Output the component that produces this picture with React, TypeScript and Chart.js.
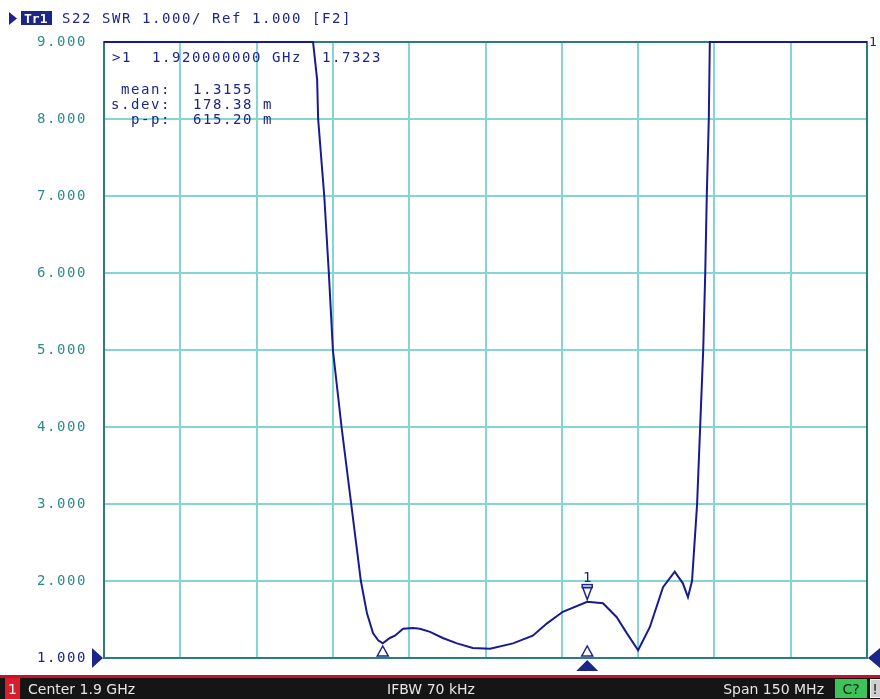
import React, { useEffect, useRef } from "react";
import { Chart, registerables } from "chart.js";
Chart.register(...registerables);

// ---- data ----
const startMHz = 1825;
const stopMHz = 1975;
const freqMHz = [
  1825, 1845, 1866.1, 1866.9, 1867.1, 1868.3, 1869.2, 1870.0, 1871.7, 1873.6,
  1875.5, 1876.7, 1877.9, 1878.9, 1879.8, 1881.2, 1882.2, 1883.8, 1885.7, 1887.1,
  1889.1, 1891.6, 1894.4, 1897.5, 1900.9, 1905.4, 1909.3, 1912.1, 1915.2, 1920.0,
  1923.1, 1925.8, 1927.8, 1930.0, 1932.3, 1934.9, 1937.2, 1938.8, 1939.8, 1940.6,
  1941.6, 1942.2, 1942.8, 1943.2, 1943.5, 1943.9, 1944.1, 1960, 1975,
];
const swr = [
  9, 9, 9, 8.51, 8.0, 7.0, 6.0, 5.0, 4.0, 3.0,
  2.0, 1.58, 1.32, 1.23, 1.19, 1.26, 1.29, 1.38, 1.39, 1.38,
  1.34, 1.26, 1.19, 1.13, 1.12, 1.19, 1.29, 1.45, 1.6, 1.73,
  1.71, 1.53, 1.32, 1.1, 1.4, 1.92, 2.12, 1.97, 1.79, 2.0,
  3.0, 4.0, 5.0, 6.0, 7.0, 8.0, 9.0, 9, 9,
];
const yMin = 1;
const yMax = 9;
const markerFreq = 1920;
const markerValue = 1.7323;
const bottomMarkerFreqs = [1879.8, 1920];
const titleText = "S22 SWR 1.000/ Ref 1.000 [F2]";
const readoutHeader = ">1  1.920000000 GHz  1.7323";
const statLabels = ["mean:", "s.dev:", "p-p:"];
const statValues = ["1.3155", "178.38 m", "615.20 m"];
const statusLeft = "Center 1.9 GHz";
const statusMid = "IFBW 70 kHz";
const statusRight = "Span 150 MHz";

// ---- styles ----
const NAVY = "#1c2688";
const TRACE = "#1a1a90";
const TEAL = "#2e8b8b";
const GRID = "#84d6d6";
const BORDER = "#2b7d7d";
const MONO = '"DejaVu Sans Mono", monospace';
const SPACING = "1.57px";

const overlay = {
  id: "overlay",
  beforeDraw(chart: any) {
    const ctx = chart.ctx;
    ctx.fillStyle = "#ffffff";
    ctx.fillRect(0, 0, chart.width, chart.height);
    (ctx as any).letterSpacing = SPACING;
  },
  beforeDatasetsDraw(chart: any) {
    const ctx = chart.ctx;
    const { left, top, right, bottom } = chart.chartArea;
    ctx.save();
    ctx.strokeStyle = BORDER;
    ctx.lineWidth = 2;
    ctx.strokeRect(left, top, right - left, bottom - top);
    ctx.restore();
  },
  afterDraw(chart: any) {
    const ctx = chart.ctx;
    const xs = chart.scales.x;
    const ys = chart.scales.y;
    const ca = chart.chartArea;
    ctx.save();
    // title
    ctx.fillStyle = NAVY;
    ctx.beginPath();
    ctx.moveTo(9, 12);
    ctx.lineTo(17, 18.5);
    ctx.lineTo(9, 25);
    ctx.closePath();
    ctx.fill();
    ctx.fillRect(21, 11, 31, 14);
    ctx.fillStyle = "#ffffff";
    (ctx as any).letterSpacing = "0px";
    ctx.font = `bold 13px ${MONO}`;
    ctx.textBaseline = "alphabetic";
    ctx.textAlign = "left";
    ctx.fillText("Tr1", 24, 23);
    ctx.fillStyle = NAVY;
    ctx.font = `14px ${MONO}`;
    (ctx as any).letterSpacing = SPACING;
    ctx.fillText(titleText, 62, 23);

    // readout
    ctx.fillText(readoutHeader, 112, 62);
    const baselines = [94, 109, 124];
    statLabels.forEach((l, i) => {
      ctx.fillText(l, 171 - l.length * 10, baselines[i]);
      ctx.fillText(statValues[i], 193, baselines[i]);
    });

    // trace number at top right
    ctx.font = `13px ${MONO}`;
    (ctx as any).letterSpacing = "0px";
    ctx.fillText("1", ca.right + 2, ca.top + 4);

    // reference level arrows
    ctx.beginPath();
    ctx.moveTo(92, ca.bottom - 10);
    ctx.lineTo(103, ca.bottom);
    ctx.lineTo(92, ca.bottom + 10);
    ctx.closePath();
    ctx.fill();
    ctx.beginPath();
    ctx.moveTo(880, ca.bottom - 10);
    ctx.lineTo(868, ca.bottom);
    ctx.lineTo(880, ca.bottom + 10);
    ctx.closePath();
    ctx.fill();

    // marker 1 on trace
    const px = xs.getPixelForValue(markerFreq);
    const py = ys.getPixelForValue(markerValue);
    ctx.strokeStyle = NAVY;
    ctx.lineWidth = 1.5;
    ctx.strokeRect(px - 5, py - 17, 10, 3);
    ctx.beginPath();
    ctx.moveTo(px - 4.5, py - 14);
    ctx.lineTo(px + 4.5, py - 14);
    ctx.lineTo(px, py - 2);
    ctx.closePath();
    ctx.stroke();
    ctx.font = `14px ${MONO}`;
    ctx.textAlign = "center";
    ctx.fillText("1", px, py - 20);

    // bottom hollow triangles
    bottomMarkerFreqs.forEach((f) => {
      const bx = xs.getPixelForValue(f);
      ctx.beginPath();
      ctx.moveTo(bx - 5.5, ca.bottom - 2);
      ctx.lineTo(bx + 5.5, ca.bottom - 2);
      ctx.lineTo(bx, ca.bottom - 12);
      ctx.closePath();
      ctx.fillStyle = "#ffffff";
      ctx.fill();
      ctx.stroke();
    });
    // active marker indicator below the axis
    ctx.fillStyle = NAVY;
    ctx.beginPath();
    ctx.moveTo(px - 11, ca.bottom + 13);
    ctx.lineTo(px + 11, ca.bottom + 13);
    ctx.lineTo(px, ca.bottom + 2);
    ctx.closePath();
    ctx.fill();

    // status bar
    ctx.fillStyle = "#c8102e";
    ctx.fillRect(0, 675, 880, 3);
    ctx.fillStyle = "#151515";
    ctx.fillRect(0, 678, 880, 21);
    ctx.fillStyle = "#d81e2a";
    ctx.fillRect(5, 678, 15, 21);
    ctx.font = `14px "DejaVu Sans", sans-serif`;
    ctx.textAlign = "left";
    ctx.fillStyle = "#ffffff";
    ctx.fillText("1", 8, 694);
    ctx.fillStyle = "#e6e6e6";
    ctx.fillText(statusLeft, 28, 694);
    ctx.textAlign = "center";
    ctx.fillText(statusMid, 431, 694);
    ctx.textAlign = "right";
    ctx.fillText(statusRight, 824, 694);
    ctx.fillStyle = "#3ec35b";
    ctx.fillRect(835, 679, 32, 19);
    ctx.fillStyle = "#102010";
    ctx.textAlign = "center";
    ctx.fillText("C?", 851, 694);
    ctx.fillStyle = "#cfcfcf";
    ctx.fillRect(870, 679, 10, 19);
    ctx.strokeStyle = "#f0f0f0";
    ctx.lineWidth = 1;
    ctx.strokeRect(870.5, 679.5, 10, 18);
    ctx.fillStyle = "#202020";
    ctx.fillText("!", 875, 694);
    ctx.restore();
  },
};

export default function App() {
  const ref = useRef<HTMLCanvasElement | null>(null);
  useEffect(() => {
    if (!ref.current) return;
    const points = freqMHz.map((f, i) => ({ x: f, y: swr[i] }));
    const chart = new Chart(ref.current, {
      type: "line",
      data: {
        datasets: [
          {
            data: points,
            borderColor: TRACE,
            borderWidth: 2,
            pointRadius: 0,
            tension: 0,
            fill: false,
            clip: false as any,
          },
        ],
      },
      options: {
        responsive: false,
        animation: false,
        devicePixelRatio: 1,
        layout: { padding: { left: 0, top: 42, right: 13, bottom: 41 } },
        plugins: { legend: { display: false }, tooltip: { enabled: false } },
        scales: {
          x: {
            type: "linear",
            min: startMHz,
            max: stopMHz,
            ticks: { display: false, stepSize: 15 },
            grid: { color: GRID, lineWidth: 2, drawTicks: false },
            border: { color: BORDER, width: 2 },
          },
          y: {
            min: yMin,
            max: yMax,
            ticks: {
              stepSize: 1,
              padding: 17,
              font: { family: "DejaVu Sans Mono", size: 14 },
              color: (c: any) => (c.tick && c.tick.value === 1 ? NAVY : TEAL),
              callback: (v: any) => Number(v).toFixed(3),
            },
            grid: { color: GRID, lineWidth: 2, drawTicks: false },
            border: { color: BORDER, width: 2 },
            afterFit: (s: any) => {
              s.width = 104;
            },
          },
        },
      },
      plugins: [overlay],
    });
    return () => chart.destroy();
  }, []);
  return (
    <div style={{ position: "absolute", left: 0, top: 0, width: 880, height: 699, background: "#fff" }}>
      <canvas ref={ref} width={880} height={699} style={{ display: "block" }} />
    </div>
  );
}
